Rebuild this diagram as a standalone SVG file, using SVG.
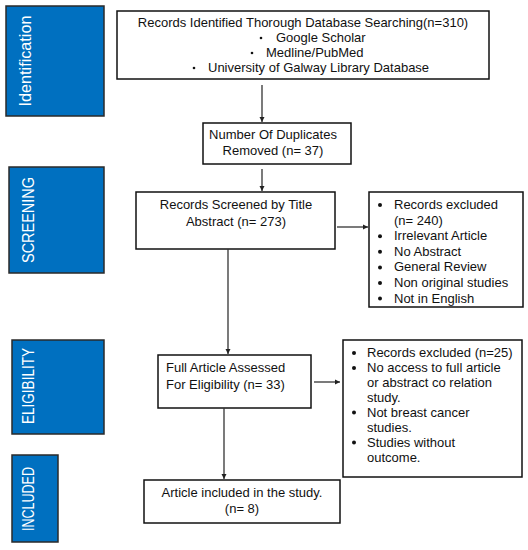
<svg xmlns="http://www.w3.org/2000/svg" width="528" height="550" viewBox="0 0 528 550">
<defs>
<marker id="ah" markerWidth="6" markerHeight="6" refX="5" refY="3" orient="auto" markerUnits="userSpaceOnUse">
<path d="M0,0.5 L5,3 L0,5.5 Z" fill="#222"/>
</marker>
<style>
.stage{fill:#0070C0;stroke:#2a2a2a;stroke-width:1.5}
.stxt{fill:#ffffff;font-family:"Liberation Sans",Arial,sans-serif;font-size:17px;text-anchor:middle}
.box{fill:#ffffff;stroke:#111;stroke-width:1.5}
.t{font-family:"Liberation Sans",Arial,sans-serif;font-size:13px;fill:#111}
.c{text-anchor:middle}
.dot{fill:#111}
.conn{stroke:#333;stroke-width:1.3;fill:none}
</style>
</defs>
<rect width="528" height="550" fill="#ffffff"/>

<g id="stage-identification">
<rect class="stage" x="6" y="6" width="98" height="110"/>
<text class="stxt" transform="translate(31,61) rotate(-90)" textLength="91" lengthAdjust="spacingAndGlyphs">Identification</text>
</g>
<g id="stage-screening">
<rect class="stage" x="9" y="167" width="95" height="106"/>
<text class="stxt" transform="translate(34,220) rotate(-90)" textLength="86" lengthAdjust="spacingAndGlyphs">SCREENING</text>
</g>
<g id="stage-eligibility">
<rect class="stage" x="12" y="340" width="92" height="94"/>
<text class="stxt" transform="translate(34,386) rotate(-90)" textLength="76" lengthAdjust="spacingAndGlyphs">ELIGIBILITY</text>
</g>
<g id="stage-included">
<rect class="stage" x="12" y="455" width="46" height="87"/>
<text class="stxt" transform="translate(34,499) rotate(-90)" textLength="64" lengthAdjust="spacingAndGlyphs">INCLUDED</text>
</g>

<g id="node-identified">
<rect class="box" x="117" y="11" width="372" height="68"/>
<text class="t c" x="303" y="27">Records Identified Thorough Database Searching(n=310)</text>
<circle class="dot" cx="261" cy="38" r="1.3"/>
<text class="t" x="276" y="42">Google Scholar</text>
<circle class="dot" cx="252" cy="53" r="1.3"/>
<text class="t" x="266" y="57">Medline/PubMed</text>
<circle class="dot" cx="194" cy="68" r="1.3"/>
<text class="t" x="208" y="72">University of Galway Library Database</text>
</g>

<g id="node-duplicates">
<rect class="box" x="203" y="123" width="148" height="41"/>
<text class="t c" x="273" y="139">Number Of Duplicates</text>
<text class="t c" x="273" y="155">Removed (n= 37)</text>
</g>

<g id="node-screened">
<rect class="box" x="136" y="192" width="199" height="57"/>
<text class="t c" x="236" y="209">Records Screened by Title</text>
<text class="t c" x="236" y="226">Abstract (n= 273)</text>
</g>

<g id="node-excluded1">
<rect class="box" x="369" y="192" width="154" height="115"/>
<circle class="dot" cx="380" cy="205" r="2"/>
<text class="t" x="394" y="209">Records excluded</text>
<text class="t" x="394" y="224.6">(n= 240)</text>
<circle class="dot" cx="380" cy="236.2" r="2"/>
<text class="t" x="394" y="240.2">Irrelevant Article</text>
<circle class="dot" cx="380" cy="251.8" r="2"/>
<text class="t" x="394" y="255.8">No Abstract</text>
<circle class="dot" cx="380" cy="267.4" r="2"/>
<text class="t" x="394" y="271.4">General Review</text>
<circle class="dot" cx="380" cy="283" r="2"/>
<text class="t" x="394" y="287">Non original studies</text>
<circle class="dot" cx="380" cy="298.6" r="2"/>
<text class="t" x="394" y="302.6">Not in English</text>
</g>

<g id="node-fulltext">
<rect class="box" x="158" y="355" width="153" height="53"/>
<text class="t" x="166" y="372">Full Article Assessed</text>
<text class="t" x="166" y="389">For Eligibility (n= 33)</text>
</g>

<g id="node-excluded2">
<rect class="box" x="343" y="340" width="179" height="137"/>
<circle class="dot" cx="354" cy="353" r="2"/>
<text class="t" x="367" y="357">Records excluded (n=25)</text>
<circle class="dot" cx="354" cy="368" r="2"/>
<text class="t" x="367" y="372">No access to full article</text>
<text class="t" x="367" y="387">or abstract co relation</text>
<text class="t" x="367" y="401.5">study.</text>
<circle class="dot" cx="354" cy="412.5" r="2"/>
<text class="t" x="367" y="416.5">Not breast cancer</text>
<text class="t" x="367" y="431.5">studies.</text>
<circle class="dot" cx="354" cy="442.5" r="2"/>
<text class="t" x="367" y="446.5">Studies without</text>
<text class="t" x="367" y="461.5">outcome.</text>
</g>

<g id="node-included">
<rect class="box" x="144" y="480" width="196" height="43"/>
<text class="t c" x="242" y="497">Article included in the study.</text>
<text class="t c" x="242" y="513">(n= 8)</text>
</g>

<g id="connectors">
<line class="conn" x1="262" y1="85" x2="262" y2="122" marker-end="url(#ah)"/>
<line class="conn" x1="262" y1="169" x2="262" y2="191" marker-end="url(#ah)"/>
<line class="conn" x1="337" y1="227" x2="368" y2="227" marker-end="url(#ah)"/>
<line class="conn" x1="228" y1="249" x2="228" y2="354" marker-end="url(#ah)"/>
<line class="conn" x1="314" y1="382" x2="340" y2="382" marker-end="url(#ah)"/>
<line class="conn" x1="224" y1="408" x2="224" y2="479" marker-end="url(#ah)"/>
</g>
</svg>
